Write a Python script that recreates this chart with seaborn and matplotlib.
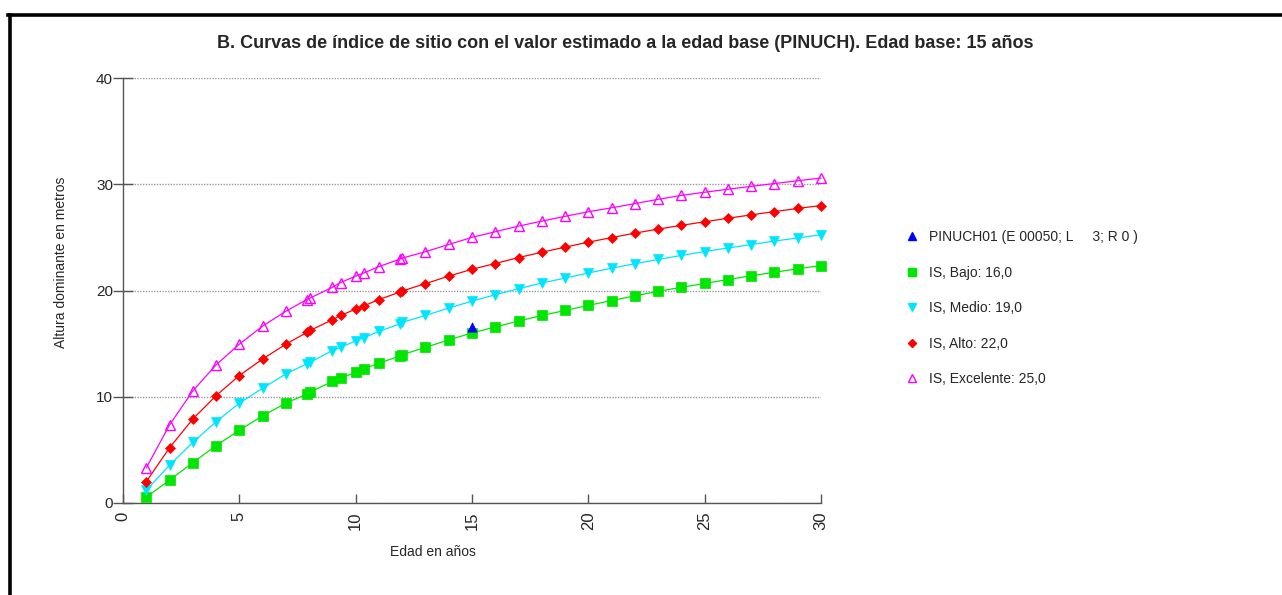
import matplotlib
matplotlib.use("Agg")
import matplotlib.pyplot as plt
from matplotlib.lines import Line2D
import seaborn as sns
import pandas as pd

# Ages (years) at which each site-index curve is evaluated
ages = [1, 2, 3, 4, 5, 6, 7, 7.9, 8.05, 9, 9.35, 10, 10.35, 11, 11.9, 12,
        13, 14, 15, 16, 17, 18, 19, 20, 21, 22, 23, 24, 25, 26, 27, 28, 29, 30]

# Dominant height (m) for each site class
h_bajo = [0.55, 2.15, 3.8, 5.4, 6.85, 8.2, 9.4, 10.25, 10.45, 11.45, 11.75, 12.3,
          12.65, 13.15, 13.85, 13.95, 14.65, 15.35, 16.0, 16.57, 17.12, 17.65, 18.12,
          18.6, 19.05, 19.5, 19.92, 20.3, 20.67, 21.03, 21.38, 21.72, 22.04, 22.35]
h_medio = [1.2, 3.55, 5.7, 7.65, 9.4, 10.8, 12.15, 13.1, 13.25, 14.35, 14.65, 15.25,
           15.55, 16.15, 16.85, 17.0, 17.65, 18.35, 19.0, 19.6, 20.17, 20.7, 21.17,
           21.65, 22.1, 22.52, 22.92, 23.3, 23.67, 24.0, 24.32, 24.65, 24.95, 25.25]
h_alto = [2.0, 5.2, 7.9, 10.1, 12.0, 13.55, 14.95, 16.05, 16.25, 17.25, 17.65, 18.25,
          18.55, 19.15, 19.85, 19.95, 20.65, 21.35, 22.0, 22.54, 23.1, 23.6, 24.08,
          24.55, 24.98, 25.4, 25.78, 26.13, 26.47, 26.8, 27.12, 27.43, 27.72, 28.0]
h_excelente = [3.3, 7.35, 10.55, 13.0, 14.95, 16.65, 18.05, 19.15, 19.3, 20.3, 20.75,
               21.35, 21.65, 22.25, 22.95, 23.05, 23.65, 24.33, 25.0, 25.53, 26.06,
               26.53, 26.98, 27.41, 27.78, 28.18, 28.58, 28.95, 29.25, 29.53, 29.8,
               30.07, 30.33, 30.58]

# Observed plot value at the base age
obs_age = [15]
obs_height = [16.6]

labels = ["PINUCH01 (E 00050; L     3; R 0 )", "IS, Bajo: 16,0", "IS, Medio: 19,0",
          "IS, Alto: 22,0", "IS, Excelente: 25,0"]
x_ticks = [0, 5, 10, 15, 20, 25, 30]
y_ticks = [0, 10, 20, 30, 40]

sns.set_style("white")
plt.rcParams["font.family"] = ["Liberation Sans", "DejaVu Sans"]

W, H = 1282, 595
fig = plt.figure(figsize=(W / 100, H / 100), dpi=100)
ax = fig.add_axes([123 / W, 1 - 503 / H, (821 - 123) / W, (503 - 78) / H])

series = [
    (h_bajo, "#00e600", "s", 6.5, None),
    (h_medio, "#00e5ff", "v", 7.0, None),
    (h_alto, "#ff0000", "D", 5.0, None),
    (h_excelente, "#ff00ff", "^", 7.0, "none"),
]
for vals, col, mk, ms, mfc in series:
    df = pd.DataFrame({"edad": ages, "altura": vals})
    sns.lineplot(data=df, x="edad", y="altura", ax=ax, color=col, lw=0.9,
                 marker=mk, markersize=ms, markeredgecolor=col,
                 markerfacecolor=(col if mfc is None else mfc),
                 markeredgewidth=(0.5 if mfc is None else 1.0),
                 clip_on=False, zorder=3)

obs = pd.DataFrame({"edad": obs_age, "altura": obs_height})
sns.scatterplot(data=obs, x="edad", y="altura", ax=ax, marker="^", s=45,
                color="#0000ff", edgecolor="#0000ff", linewidth=0.5, zorder=4)

ax.set_xlim(0, 30)
ax.set_ylim(0, 40)
ax.set_xticks(x_ticks)
ax.set_yticks(y_ticks)
ax.set_xticklabels([str(t) for t in x_ticks], rotation=90, fontsize=12)
ax.set_yticklabels([str(t) for t in y_ticks], fontsize=11)
ax.set_xlabel("")
ax.set_ylabel("")

ax.yaxis.grid(True, color="#9a9a9a", linestyle=(0, (1, 1)), linewidth=1.0)
ax.xaxis.grid(False)
for s in ["top", "right"]:
    ax.spines[s].set_visible(False)
for s in ["left", "bottom"]:
    ax.spines[s].set_color("#555555")
    ax.spines[s].set_linewidth(1.0)
ax.tick_params(axis="y", direction="inout", length=14.4, width=1.0,
               color="#555555", pad=0, left=True)
ax.tick_params(axis="x", direction="in", length=6.5, width=1.0,
               color="#555555", pad=6, bottom=True)

fig.text(625 / W, 1 - 44 / H, "B. Curvas de índice de sitio con el valor estimado a la edad base (PINUCH). Edad base: 15 años",
         ha="center", va="center", fontsize=13, fontweight="bold")
fig.text(61 / W, 1 - 262 / H, "Altura dominante en metros", rotation=90,
         ha="center", va="center", fontsize=10)
fig.text(433 / W, 1 - 552 / H, "Edad en años", ha="center", va="center",
         fontsize=10)

handles = [
    Line2D([], [], ls="none", marker="^", ms=5.5, color="#0000ff"),
    Line2D([], [], ls="none", marker="s", ms=5.5, color="#00e600"),
    Line2D([], [], ls="none", marker="v", ms=5.5, color="#00e5ff"),
    Line2D([], [], ls="none", marker="D", ms=4.2, color="#ff0000"),
    Line2D([], [], ls="none", marker="^", ms=5.5, color="#ff00ff",
           markerfacecolor="none"),
]
fig.legend(handles, labels, loc="upper left",
           bbox_to_anchor=(905 / W, 1 - 230 / H), frameon=False,
           fontsize=10, labelspacing=1.55, handlelength=1.0,
           handletextpad=0.75, borderaxespad=0, borderpad=0)

# Black frame along the top and left edges
fig.add_artist(Line2D([8 / W, 1.0], [1 - 14.5 / H, 1 - 14.5 / H],
                      transform=fig.transFigure, color="black", lw=2.6,
                      solid_capstyle="projecting"))
fig.add_artist(Line2D([10 / W, 10 / W], [1 - 14.5 / H, 0.0],
                      transform=fig.transFigure, color="black", lw=2.6,
                      solid_capstyle="projecting"))

fig.savefig("out.png", dpi=100, facecolor="white")
